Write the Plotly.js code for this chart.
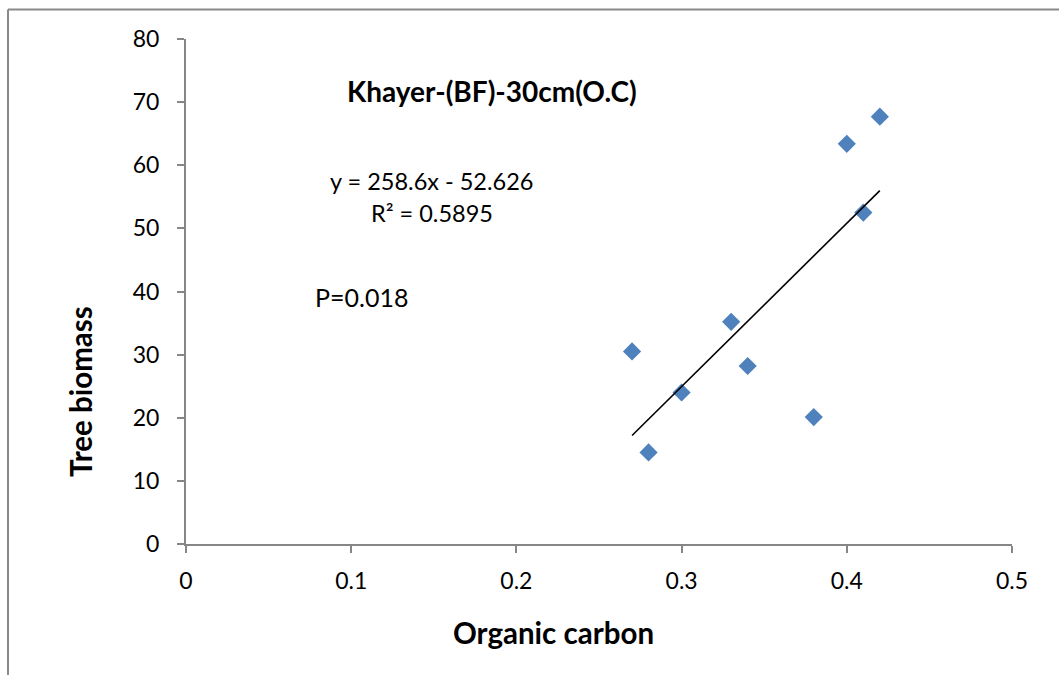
<!DOCTYPE html>
<html>
<head>
<meta charset="utf-8">
<script src="https://cdn.plot.ly/plotly-3.0.1.min.js"></script>
<style>html,body{margin:0;padding:0;background:#fff;}#chart{width:1059px;height:675px;}</style>
</head>
<body>
<div id="chart"></div>
<script>
// Data
const organicCarbon = [0.27, 0.28, 0.30, 0.33, 0.34, 0.38, 0.40, 0.41, 0.42];
const treeBiomass   = [30.5, 14.5, 24.0, 35.2, 28.2, 20.1, 63.4, 52.5, 67.7];
const slope = 258.6;
const intercept = -52.626;
const rSquared = 0.5895;
const pValue = 0.018;
const xTickVals = [0, 0.1, 0.2, 0.3, 0.4, 0.5];
const yTickVals = [0, 10, 20, 30, 40, 50, 60, 70, 80];
const chartTitle = "Khayer-(BF)-30cm(O.C)";
const xTitle = "Organic carbon";
const yTitle = "Tree biomass";

const xMin = Math.min(...organicCarbon), xMax = Math.max(...organicCarbon);
const trendX = [xMin, xMax];
const trendY = trendX.map(v => slope * v + intercept);

const font = "Lato, 'Open Sans', sans-serif";
const W = 1059, H = 675;
const m = {l: 186, r: 47, t: 39, b: 131};
const pw = W - m.l - m.r, ph = H - m.t - m.b;
const px = x => (x - m.l) / pw;
const py = y => (H - m.b - y) / ph;

const traces = [
  {x: organicCarbon, y: treeBiomass, type: 'scatter', mode: 'markers',
   marker: {symbol: 'diamond', size: 14, color: '#4F81BD'}, showlegend: false, hoverinfo: 'x+y'},
  {x: trendX, y: trendY, type: 'scatter', mode: 'lines',
   line: {color: '#000', width: 1.6}, showlegend: false, hoverinfo: 'skip'}
];

const layout = {
  width: W, height: H,
  margin: m,
  paper_bgcolor: '#fff', plot_bgcolor: '#fff',
  font: {family: font, color: '#000', size: 23},
  showlegend: false,
  xaxis: {range: [0, 0.5], tickvals: xTickVals, ticktext: xTickVals.map(String),
    showgrid: false, zeroline: false, showline: true, linecolor: '#868686', linewidth: 2,
    ticks: 'outside', ticklen: 7, tickwidth: 2, tickcolor: '#868686',
    tickfont: {family: font, size: 23}, ticklabelstandoff: 8},
  yaxis: {range: [0, 80], tickvals: yTickVals,
    showgrid: false, zeroline: false, showline: true, linecolor: '#868686', linewidth: 2,
    ticks: 'outside', ticklen: 7, tickwidth: 2, tickcolor: '#868686',
    tickfont: {family: font, size: 23}, ticklabelstandoff: 13},
  annotations: [
    {xref: 'paper', yref: 'paper', x: px(492), y: py(91), text: '<b>' + chartTitle + '</b>',
     showarrow: false, font: {family: font, size: 28}, xanchor: 'center', yanchor: 'middle'},
    {xref: 'paper', yref: 'paper', x: px(431), y: py(181), text: 'y = ' + slope + 'x - ' + Math.abs(intercept),
     showarrow: false, font: {family: font, size: 23.5}, xanchor: 'center', yanchor: 'middle'},
    {xref: 'paper', yref: 'paper', x: px(432), y: py(213), text: 'R² = ' + rSquared,
     showarrow: false, font: {family: font, size: 23.5}, xanchor: 'center', yanchor: 'middle'},
    {xref: 'paper', yref: 'paper', x: px(313), y: py(297), text: 'P=' + pValue,
     showarrow: false, font: {family: font, size: 25}, xanchor: 'left', yanchor: 'middle'},
    {xref: 'paper', yref: 'paper', x: px(553), y: py(632), text: '<b>' + xTitle + '</b>',
     showarrow: false, font: {family: font, size: 29.5}, xanchor: 'center', yanchor: 'middle'},
    {xref: 'paper', yref: 'paper', x: px(80), y: py(392), text: '<b>' + yTitle + '</b>', textangle: -90,
     showarrow: false, font: {family: font, size: 29.5}, xanchor: 'center', yanchor: 'middle'}
  ],
  shapes: [
    {type: 'line', xref: 'paper', yref: 'paper', x0: px(8), x1: px(1059), y0: py(9.5), y1: py(9.5),
     line: {color: '#898989', width: 2}},
    {type: 'line', xref: 'paper', yref: 'paper', x0: px(8), x1: px(8), y0: py(9.5), y1: py(675),
     line: {color: '#898989', width: 2}}
  ]
};

Plotly.newPlot('chart', traces, layout, {displayModeBar: false, staticPlot: true});
</script>
</body>
</html>
